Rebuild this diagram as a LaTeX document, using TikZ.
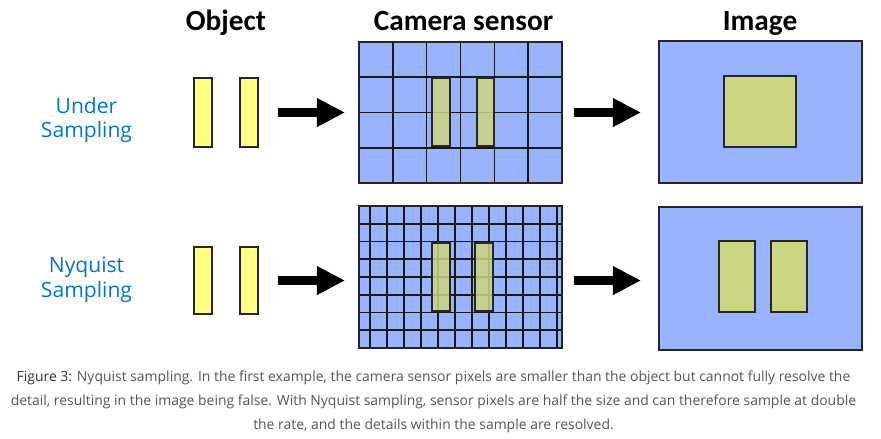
\documentclass[tikz,border=0pt]{standalone}
\usepackage{fontspec}
\setmainfont{Open Sans}
\newfontfamily\titlefont{Carlito}
\usetikzlibrary{positioning, arrows.meta, calc}
\definecolor{SensBlue}{RGB}{153,179,255}
\definecolor{ObjYellow}{RGB}{255,255,128}
\definecolor{ImgOlive}{RGB}{204,214,128}
\definecolor{LblBlue}{RGB}{0,118,206}
\definecolor{CapGray}{RGB}{85,85,85}
\newcommand{\pxu}{0.03cm}

\begin{document}
\begin{tikzpicture}[x=0.03cm, y=-0.03cm,
          title/.style={font=\titlefont\bfseries\fontsize{25}{30}\selectfont, anchor=base},
          rowlbl/.style={font=\fontsize{18}{21.25}\selectfont, text=LblBlue, align=center},
          bar/.style={draw=black!85, line width=1.2pt, inner sep=0pt, outer sep=0pt},
          objbar/.style={bar, fill=ObjYellow, minimum width=18*\pxu},
          sensor/.style={draw=black!85, line width=1.3pt, fill=SensBlue, inner sep=0pt,
                         outer sep=0pt, minimum width=203*\pxu},
          gridln/.style={line width=1.4pt, black!90},
          fatarr/.style={-{Triangle[length=24pt, width=23pt]}, line width=8.5pt},
          caption/.style={font=\fontsize{11.9}{20.4}\selectfont, text=CapGray, align=center}
        ]
        \useasboundingbox (0,0) rectangle (881,438);

        % column titles
        \node[title] (tobj) at (226,30) {Object};
        \node[title] (tsens) at (463.5,30) {Camera sensor};
        \node[title] (timg) at (760,30) {Image};

        % row labels
        \node[rowlbl] (lunder) at (86.5,120) {Under\\Sampling};
        \node[rowlbl] (lnyq) at (86.5,280) {Nyquist\\Sampling};

        % objects
        \node[objbar, minimum height=69*\pxu] (uobj1) at (203,112.5) {};
        \node[objbar, minimum height=69*\pxu] (uobj2) at (249,112.5) {};
        \node[objbar, minimum height=67*\pxu] (nobj1) at (203,280.5) {};
        \node[objbar, minimum height=67*\pxu] (nobj2) at (249,280.5) {};

        % under sampled sensor
        \node[sensor, minimum height=141*\pxu] (usens) at (460.5,112.5) {};
        \foreach \i in {1,...,5}
          \draw[gridln] ($(usens.north west)!\i/6!(usens.north east)$)
                     -- ($(usens.south west)!\i/6!(usens.south east)$);
        \foreach \j in {1,2,3}
          \draw[gridln] ($(usens.north west)!\j/4!(usens.south west)$)
                     -- ($(usens.north east)!\j/4!(usens.south east)$);
        \node[bar, fill=ImgOlive, fill opacity=0.85, minimum width=18*\pxu,
              minimum height=68*\pxu] (usy1) at (441,112) {};
        \node[bar, fill=ImgOlive, fill opacity=0.85, minimum width=17*\pxu,
              minimum height=68*\pxu] (usy2) at (485.5,112) {};

        % nyquist sensor
        \node[sensor, minimum height=142*\pxu] (nsens) at (460.5,277) {};
        \foreach \k in {0,...,11}
          \draw[gridln] ($(nsens.north west)+({11+17*\k},0)$)
                     -- ($(nsens.south west)+({11+17*\k},0)$);
        \foreach \j in {1,...,7}
          \draw[gridln] ($(nsens.north west)!\j/8!(nsens.south west)$)
                     -- ($(nsens.north east)!\j/8!(nsens.south east)$);
        \node[bar, fill=ImgOlive, fill opacity=0.85, minimum width=18*\pxu,
              minimum height=68*\pxu] (nsy1) at (441,277) {};
        \node[bar, fill=ImgOlive, fill opacity=0.85, minimum width=18*\pxu,
              minimum height=68*\pxu] (nsy2) at (484,277) {};

        % images
        \node[sensor, minimum height=142*\pxu] (uimg) at (760.5,112) {};
        \node[bar, fill=ImgOlive, minimum width=72*\pxu, minimum height=71*\pxu]
              (uimgsq) at (760,111.5) {};
        \node[sensor, minimum height=143*\pxu] (nimg) at (760.5,278.5) {};
        \node[bar, fill=ImgOlive, minimum width=36*\pxu, minimum height=71*\pxu]
              (nimg1) at (737,276.5) {};
        \node[bar, fill=ImgOlive, minimum width=36*\pxu, minimum height=71*\pxu]
              (nimg2) at (789,276.5) {};

        % arrows
        \draw[fatarr] ([xshift=20*\pxu]uobj2.east) -- ([xshift=-14*\pxu]usens.west |- uobj2.east);
        \draw[fatarr] ([xshift=12*\pxu]usens.east) -- ([xshift=-18*\pxu]uimg.west |- usens.east);
        \draw[fatarr] ([xshift=20*\pxu]nobj2.east) -- ([xshift=-14*\pxu]nsens.west |- nobj2.east);
        \draw[fatarr] ([xshift=12*\pxu]nsens.east |- nobj2.east) -- ([xshift=-18*\pxu]nimg.west |- nobj2.east);

        % caption
        \node[caption] (cap) at (433.5,402)
              {{\color{black!80}Figure 3:} Nyquist sampling. In the first example, the camera sensor pixels are smaller than the object but cannot fully resolve the\\
               detail, resulting in the image being false. With Nyquist sampling, sensor pixels are half the size and can therefore sample at double\\
               the rate, and the details within the sample are resolved.};
      \end{tikzpicture}
\end{document}
